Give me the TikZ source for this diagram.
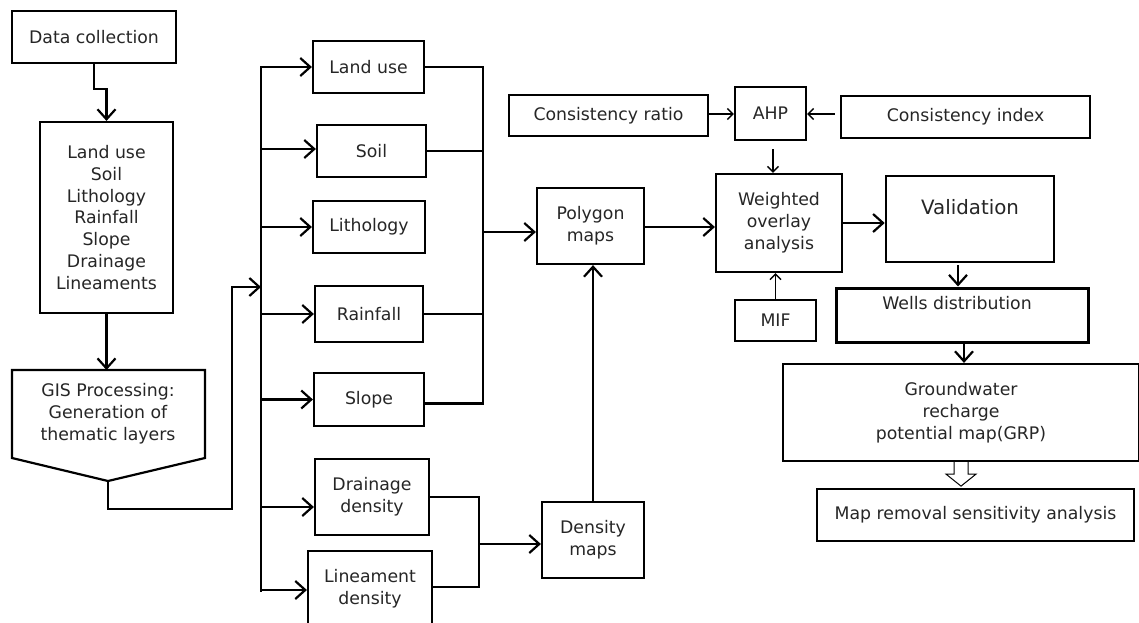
\documentclass[tikz,border=0pt]{standalone}
\usepackage{fontspec}
\setmainfont{DejaVu Sans}
\usetikzlibrary{arrows.meta,calc}
\begin{document}
\begin{tikzpicture}[x=1pt,y=-1pt,
  txt/.style={align=center, inner sep=0pt, text=black!85, font=\fontsize{17.3}{21.8}\selectfont},
  box/.style={txt, draw=black, line width=2.2pt},
  arr/.style={line width=2.2pt, -{Straight Barb[length=10pt,width=18pt,line width=2.2pt]}},
  sarr/.style={line width=1.5pt, -{Straight Barb[length=5.5pt,width=11pt,line width=1.5pt]}},
  ln/.style={line width=2.2pt}]
\clip (0,0) rectangle (1139,622);
\fill[white] (0,0) rectangle (1139,622);

% left column
\node[box, minimum width=164, minimum height=52] (dc) at (94,37) {Data collection};
\node[box, minimum width=133, minimum height=191] (list) at (106.5,217.5)
  {Land use\\Soil\\Lithology\\Rainfall\\Slope\\Drainage\\Lineaments};
\draw[ln] (12,370) -- (205,370) -- (205,458) -- (108,481) -- (12,458) -- cycle;
\node[txt] (gis) at (108,414) {GIS Processing:\\Generation of\\thematic layers};
\coordinate (gistop) at (107,370);
\coordinate (gistip) at (108,481);
\coordinate (j1) at (232,509);
\coordinate (busin) at (261,287);
\coordinate (bustop) at (261,66);
\coordinate (busbot) at (261,592);

\draw[arr] (dc.south) -- ++(0,25) -| (list.north);
\draw[arr] (list.south) -- (list.south |- gistop);
\draw[arr] (gistip) |- (j1) |- (busin);

% thematic layer boxes
\node[box, minimum width=111, minimum height=52] (lu) at (368.5,67) {Land use};
\node[box, minimum width=109, minimum height=52] (so) at (371.5,151) {Soil};
\node[box, minimum width=112, minimum height=52] (li) at (369,227) {Lithology};
\node[box, minimum width=108, minimum height=56] (ra) at (369,314) {Rainfall};
\node[box, minimum width=110, minimum height=53] (sl) at (369,399.5) {Slope};
\node[box, minimum width=114, minimum height=76] (dd) at (372,497) {Drainage\\density};
\node[box, minimum width=124, minimum height=76] (ld) at (370,589) {Lineament\\density};

\draw[ln] (bustop) -- (busbot);
\draw[arr] (lu.west -| bustop) -- (lu.west);
\draw[arr] ($(so.west -| bustop)+(0,-2)$) -- ($(so.west)+(0,-2)$);
\draw[arr] (li.west -| bustop) -- (li.west);
\draw[arr] (ra.west -| bustop) -- (ra.west);
\draw[arr] (sl.west -| bustop) -- (sl.west);
\draw[arr] ($(dd.west -| bustop)+(0,10)$) -- ($(dd.west)+(0,10)$);
\draw[arr] ($(ld.west -| bustop)+(0,1)$) -- ($(ld.west)+(0,1)$);

% right bus
\coordinate (rb) at (483,0);
\draw[ln] (lu.east) -- (lu.east -| rb) -- ($(sl.east -| rb)+(0,4)$) -- ($(sl.east)+(0,4)$);
\draw[ln] (so.east) -- (so.east -| rb);
\draw[ln] (ra.east) -- (ra.east -| rb);

% polygon / density
\node[box, minimum width=107, minimum height=76] (pm) at (590.5,226) {Polygon\\maps};
\node[box, minimum width=102, minimum height=76] (dm) at (593,540) {Density\\maps};
\coordinate (pin) at ($(pm.west)+(0,6)$);
\draw[arr] (pin -| rb) -- (pin);
\coordinate (jd) at (479,544);
\draw[ln] (dd.east) -| (jd) |- ($(ld.east)+(0,-2)$);
\draw[arr] (jd) -- (jd -| dm.west);
\draw[arr] (dm.north) -- (dm.north |- pm.south);

% AHP area
\node[box, minimum width=126, minimum height=98] (wo) at (779,223) {Weighted\\overlay\\analysis};
\node[box, minimum width=71, minimum height=53] (ahp) at (770.5,113.5) {AHP};
\node[box, minimum width=199, minimum height=41] (cr) at (608.5,115.5) {Consistency ratio};
\node[box, minimum width=249, minimum height=42] (ci) at (965.5,117) {Consistency index};
\node[box, minimum width=81, minimum height=41] (mif) at (775.5,320.5) {MIF};

\draw[arr] ($(pm.east)+(0,1)$) -- ($(pm.east -| wo.west)+(0,1)$);
\draw[sarr] ($(cr.east)+(0,-1.5)$) -- ($(cr.east -| ahp.west)+(0,-1.5)$);
\coordinate (cis) at ($(ci.west)+(-5,-3)$);
\draw[sarr] (cis) -- (cis -| ahp.east);
\coordinate (ahps) at ($(ahp.south)+(2.5,8)$);
\draw[sarr] (ahps) -- (ahps |- wo.north);
\draw[sarr] (mif.north) -- (mif.north |- wo.south);

% validation chain
\node[draw, line width=2.6pt, minimum width=168, minimum height=86, inner sep=0pt] (val) at (970,219) {};
\node[txt, font=\fontsize{19.8}{24}\selectfont] (valt) at (970,207) {Validation};
\node[draw, line width=3pt, minimum width=252, minimum height=54, inner sep=0pt] (we) at (962,315) {};
\node[txt] (wet) at (957,303) {Wells distribution};
\node[box, minimum width=356, minimum height=97] (grp) at (961,412.5) {Groundwater\\recharge\\potential map(GRP)};
\node[box, minimum width=317, minimum height=52] (mr) at (975.5,515) {Map removal sensitivity analysis};

\draw[arr] (wo.east) -- (wo.east -| val.west);
\coordinate (v1) at ($(val.south)+(-12,2)$);
\draw[arr] (v1) -- (v1 |- we.north);
\coordinate (w1) at ($(we.south)+(2,0)$);
\draw[arr] (w1) -- (w1 |- grp.north);
\draw[line width=1pt] (grp.south) ++(-7,0) -- ++(0,12) -- ++(-8,0) -- ++(15,12) -- ++(15,-12) -- ++(-8,0) -- ++(0,-12);
\end{tikzpicture}
\end{document}
